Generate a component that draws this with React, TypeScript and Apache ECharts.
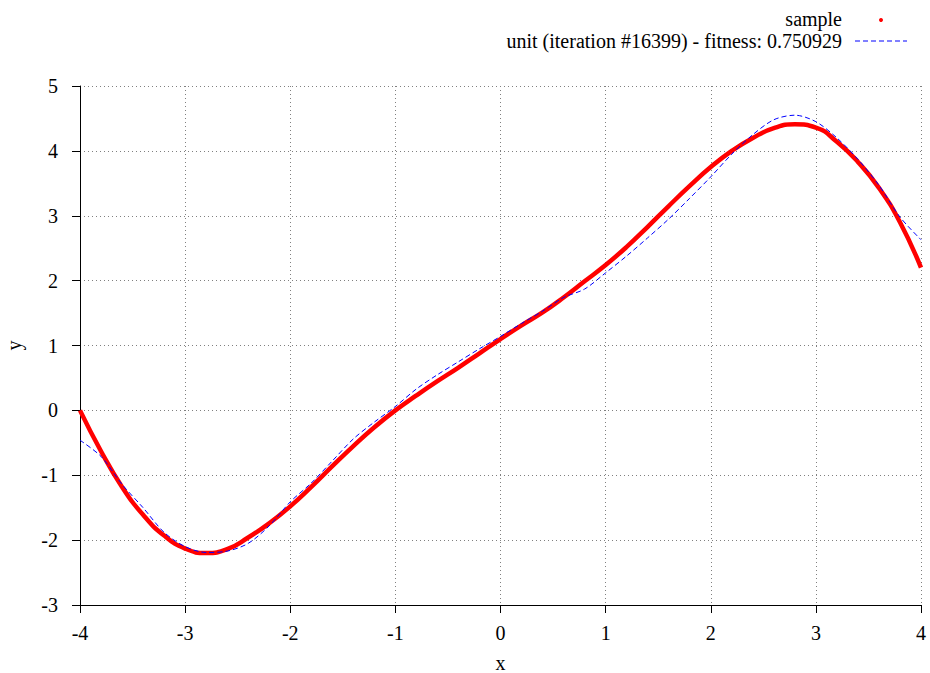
import React, { useEffect, useRef } from "react";
import * as echarts from "echarts";

const xs = [-4.0, -3.8, -3.6, -3.4, -3.2, -3.0, -2.8, -2.6, -2.4, -2.2, -2.0, -1.8, -1.6, -1.4, -1.2, -1.0, -0.8, -0.6, -0.4, -0.2, 0.0,
  0.2, 0.4, 0.6, 0.8, 1.0, 1.2, 1.4, 1.6, 1.8, 2.0, 2.2, 2.4, 2.6, 2.8, 3.0, 3.2, 3.4, 3.6, 3.8, 4.0];

const sampleValues = [0.0, -0.63, -1.18, -1.61, -1.93, -2.13, -2.2, -2.14, -1.96, -1.74, -1.48, -1.18, -0.86, -0.55, -0.26, 0.0, 0.23, 0.45, 0.66, 0.88, 1.1,
  1.31, 1.51, 1.74, 1.99, 2.24, 2.52, 2.83, 3.15, 3.46, 3.75, 4.0, 4.2, 4.35, 4.41, 4.36, 4.14, 3.83, 3.43, 2.9, 2.2];

const unitValues = [-0.46, -0.71, -1.14, -1.5, -1.88, -2.1, -2.19, -2.17, -2.05, -1.78, -1.41, -1.12, -0.78, -0.44, -0.18, 0.06, 0.33, 0.55, 0.75, 0.95, 1.14,
  1.34, 1.53, 1.74, 1.87, 2.12, 2.38, 2.66, 2.95, 3.27, 3.6, 3.95, 4.25, 4.48, 4.55, 4.45, 4.2, 3.87, 3.47, 2.98, 2.63];

const sampleLabel = "sample";
const unitLabel = "unit (iteration #16399) - fitness: 0.750929";

const FONT = "'Liberation Serif', 'DejaVu Serif', serif";
const FS = 20;

export default function App() {
  const ref = useRef<HTMLDivElement>(null);
  useEffect(() => {
    if (!ref.current) return;
    const chart = echarts.init(ref.current, undefined, { renderer: "svg" });
    const sampleData = xs.map((x, i) => [x, sampleValues[i]]);
    const unitData = xs.map((x, i) => [x, unitValues[i]]);
    const axisCommon = {
      axisLine: { show: true, onZero: false, lineStyle: { color: "#000", width: 1 } },
      axisTick: { show: true, inside: false, length: 8, lineStyle: { color: "#000" } },
      splitLine: { show: true, showMinLine: true, showMaxLine: true, lineStyle: { color: "#808080", type: [1, 3], width: 1 } },
    };
    chart.setOption({
      animation: false,
      backgroundColor: "#fff",
      textStyle: { fontFamily: FONT },
      grid: { left: 80, right: 9, top: 86, bottom: 68, containLabel: false, outerBoundsMode: "none" },
      xAxis: {
        type: "value",
        min: -4,
        max: 4,
        interval: 1,
        name: "x",
        nameLocation: "middle",
        nameGap: 48,
        nameTextStyle: { fontFamily: FONT, fontSize: FS, color: "#000" },
        axisLabel: { margin: 18, fontFamily: FONT, fontSize: FS, color: "#000" },
        ...axisCommon,
      },
      yAxis: {
        type: "value",
        min: -3,
        max: 5,
        interval: 1,
        name: "y",
        nameLocation: "middle",
        nameGap: 56,
        nameTextStyle: { fontFamily: FONT, fontSize: FS, color: "#000" },
        axisLabel: { margin: 22, fontFamily: FONT, fontSize: FS, color: "#000" },
        ...axisCommon,
      },
      series: [
        {
          name: sampleLabel,
          type: "line",
          data: sampleData,
          smooth: 0.5,
          showSymbol: false,
          lineStyle: { color: "#ff0000", width: 4.5 },
          z: 2,
        },
        {
          name: unitLabel,
          type: "line",
          data: unitData,
          smooth: 0.3,
          showSymbol: false,
          lineStyle: { color: "#0000ff", width: 1, type: [5, 3] },
          z: 3,
        },
      ],
      graphic: [
        {
          type: "text",
          right: 930 - 842,
          top: 9,
          style: { text: sampleLabel, font: `${FS}px ${FONT}`, fill: "#000", textAlign: "right" },
        },
        {
          type: "circle",
          shape: { cx: 881, cy: 20, r: 2 },
          style: { fill: "#ff0000" },
        },
        {
          type: "text",
          right: 930 - 842,
          top: 31,
          style: { text: unitLabel, font: `${FS}px ${FONT}`, fill: "#000", textAlign: "right" },
        },
        {
          type: "line",
          shape: { x1: 855, y1: 41, x2: 907, y2: 41 },
          style: { stroke: "#0000ff", lineWidth: 1, lineDash: [5, 3] },
        },
      ],
    });
    return () => chart.dispose();
  }, []);
  return <div ref={ref} style={{ position: "absolute", left: 0, top: 0, width: 930, height: 673 }} />;
}
